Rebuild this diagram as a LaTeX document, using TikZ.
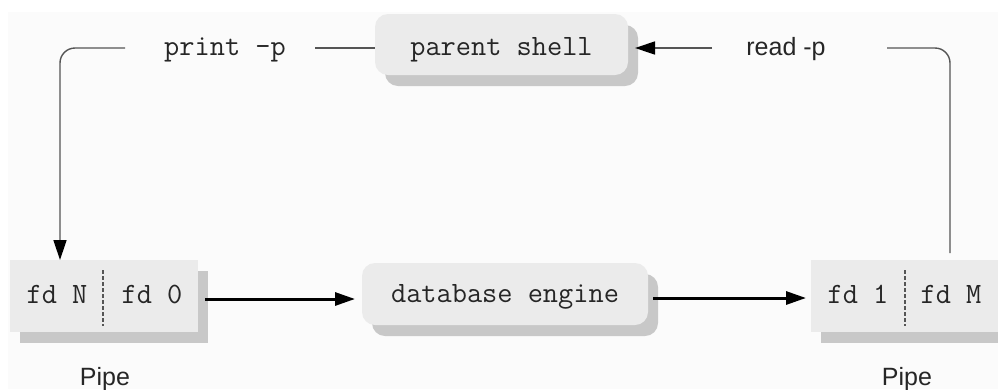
\documentclass[tikz,border=0pt]{standalone}
\usepackage{fontspec}
\setmainfont{Liberation Sans}
\usetikzlibrary{arrows.meta}
\definecolor{boxfill}{HTML}{EBEBEB}
\definecolor{boxshade}{HTML}{C8C8C8}
\definecolor{wire}{HTML}{555555}
\definecolor{ink}{HTML}{262626}
\definecolor{paper}{HTML}{FBFBFB}
\tikzset{
  shaded box/.style={fill=boxfill, draw=none,
    preaction={fill=boxshade, transform canvas={xshift=10bp,yshift=-11bp}}},
  procbox/.style={shaded box, rounded corners=13bp, inner sep=0pt},
  pipebox/.style={shaded box, inner sep=0pt},
  code/.style={font=\ttfamily\fontsize{29.5bp}{32bp}\selectfont,
    text=ink, inner sep=0pt, anchor=base},
  plain/.style={font=\fontsize{25bp}{30bp}\selectfont, text=ink, inner sep=0pt, anchor=base},
  thinwire/.style={draw=wire, line width=1.4bp, rounded corners=15bp},
  tip/.style={-{Triangle[length=20bp,width=13bp,color=black]}},
  flow/.style={draw=black, line width=3bp, tip},
  divider/.style={draw=wire, line width=1.2bp, dash pattern=on 4bp off 2bp},
}
\begin{document}
\begin{tikzpicture}[x=1bp,y=-1bp]
  \useasboundingbox (0,0) rectangle (998,389);
  \fill[white] (0,0) rectangle (998,389);
  \fill[paper] (8,12) rectangle (998,389);

  % processes
  \node[procbox, minimum width=253bp, minimum height=61bp] (shell) at (501.5,44.5) {};
  \node[code] (shelltxt) at (501.5,55) {parent shell};
  \node[procbox, minimum width=286bp, minimum height=62bp] (engine) at (505,294) {};
  \node[code] (enginetxt) at (505,302) {database engine};

  % pipes
  \node[pipebox, minimum width=188bp, minimum height=72bp] (pipeL) at (104,296) {};
  \node[code] (fdN) at (57,303) {fd N};
  \node[code] (fdZ) at (152,303) {fd 0};
  \draw[divider] (103,270) coordinate (dLa) -- (103,326) coordinate (dLb);
  \node[pipebox, minimum width=200bp, minimum height=72bp] (pipeR) at (911,296) {};
  \node[code] (fdO) at (858,303) {fd 1};
  \node[code] (fdM) at (951,303) {fd M};
  \draw[divider] (905,270) coordinate (dRa) -- (905,326) coordinate (dRb);

  \node[plain] (pipeLlab) at (105,385) {Pipe};
  \node[plain] (pipeRlab) at (907,385) {Pipe};

  % labels on the shell's read and write paths
  \node[code] (printp) at (225,55) {print -p};
  \node[plain] (readp) at (786,55) {read -p};

  % parent shell writes into the coprocess pipe
  \coordinate (inL) at (60,260);
  \coordinate (wrA) at (125,48);
  \coordinate (wrB) at (315,48);
  \draw[thinwire, tip] (wrA) -- (60,48) -- (inL);
  \draw[thinwire] (wrB) -- (shell.west |- wrB);

  % data through the coprocess
  \draw[flow] (pipeL.east) ++(7,3) -- (355,299);
  \draw[flow] (engine.east) ++(5,4) -- (806,298);

  % coprocess output read back by the shell
  \coordinate (outR) at (950,253);
  \coordinate (rdA) at (887,48);
  \coordinate (rdB) at (712,48);
  \draw[thinwire] (outR) -- (950,48) -- (rdA);
  \draw[thinwire, tip] (rdB) -- (635,48);
\end{tikzpicture}
\end{document}
